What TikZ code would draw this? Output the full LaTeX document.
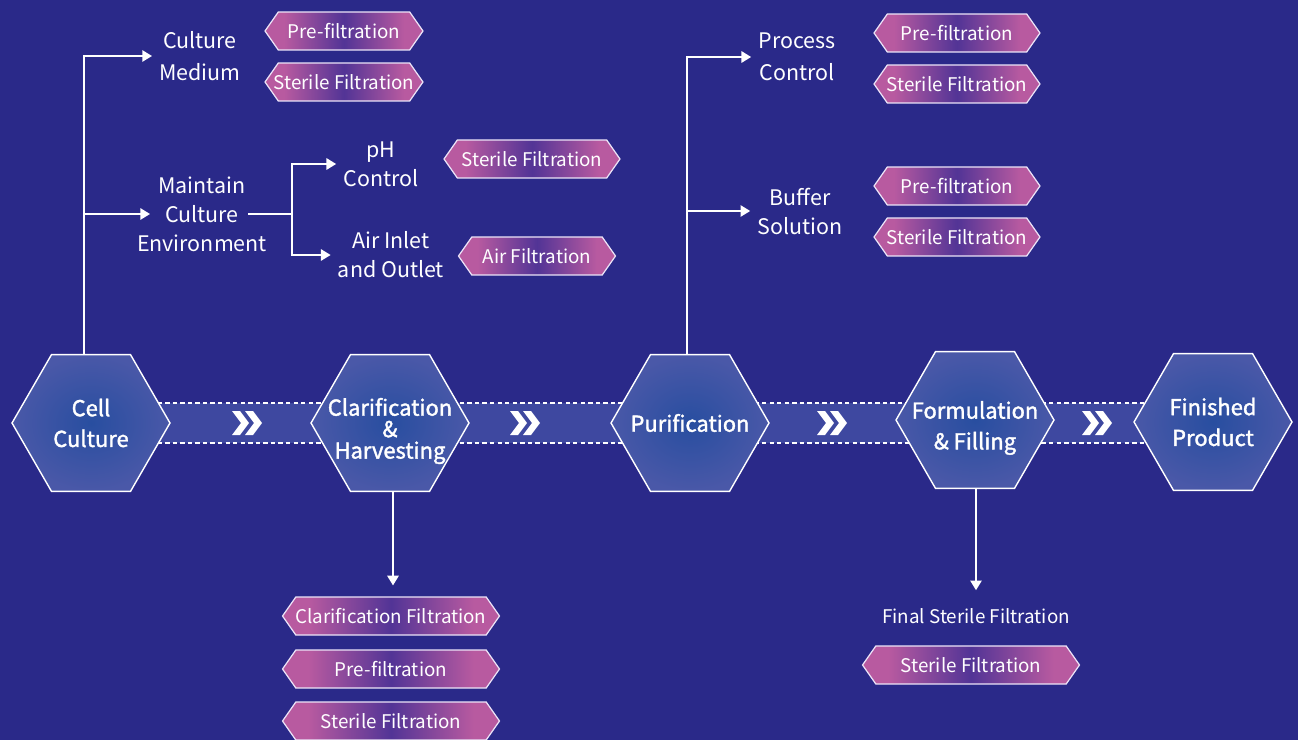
\documentclass[tikz,border=0pt]{standalone}
\usepackage{fontspec}
\setmainfont{Noto Sans CJK SC}
\newfontfamily\stagefont{Noto Sans CJK SC}[FakeBold=1.6]
\usetikzlibrary{arrows.meta, positioning, shapes, calc}

\definecolor{bgblue}{RGB}{42,41,137}
\definecolor{bandblue}{RGB}{62,72,160}
\definecolor{hexin}{RGB}{40,78,160}
\definecolor{hexout}{RGB}{74,88,168}
\definecolor{tagpink}{RGB}{184,90,160}
\definecolor{tagpurple}{RGB}{82,52,150}
\definecolor{tagline}{RGB}{236,228,248}

\pgfdeclarehorizontalshading{tagshade}{100bp}{color(0bp)=(tagpink); color(25bp)=(tagpink); color(31bp)=(tagpink); color(50bp)=(tagpurple); color(69bp)=(tagpink); color(75bp)=(tagpink); color(100bp)=(tagpink)}

\tikzset{
  stage/.style={regular polygon, regular polygon sides=6, minimum size=3.16cm, inner sep=0pt,
    draw=white, line width=0.8pt, inner color=hexin, outer color=hexout},
  stagetxt/.style={text=white, font=\stagefont\fontsize{12.5}{17.5}\selectfont, align=center},
  lbl/.style={text=white, font=\fontsize{12.2}{16.5}\selectfont, align=center, inner sep=4pt},
  plaintxt/.style={text=white, font=\fontsize{10.7}{13}\selectfont},
  tag/.style={signal, signal to=east and west, signal pointer angle=110, minimum height=0.76cm,
    draw=tagline, line width=0.7pt, shading=tagshade, text=white,
    font=\fontsize{10.7}{13}\selectfont, inner ysep=1pt, inner xsep=-4pt},
  wire/.style={draw=white, line width=0.85pt},
  link/.style={wire, -{Triangle[length=5.5pt,width=6.5pt]}},
  dashline/.style={draw=white, line width=0.6pt, dash pattern=on 2.5pt off 1.8pt}
}

\begin{document}
\begin{tikzpicture}[x=0.02cm, y=-0.02cm]
\fill[bgblue] (0,0) rectangle (1298,740);
\useasboundingbox (0,0) rectangle (1298,740);

% band behind the stages
\fill[bandblue] (150,403) rectangle (1150,443);
\draw[dashline] (150,403) -- (1150,403);
\draw[dashline] (150,443) -- (1150,443);

% stages
\node[stage] (cell) at (91,423) {};
\node[stage] (clar) at (390,423) {};
\node[stage] (puri) at (690,423) {};
\node[stage] (form) at (975,420) {};
\node[stage] (fin) at (1213,422) {};
\node[stagetxt] (celltxt) at (cell) {Cell\\Culture};
\node[stagetxt, font=\stagefont\fontsize{12.5}{12.2}\selectfont] (clartxt) at ($(clar)+(0,8)$) {Clarification\\\&\\Harvesting};
\node[stagetxt] (puritxt) at (puri) {Purification};
\node[stagetxt] (formtxt) at ($(form)+(0,8)$) {Formulation\\\& Filling};
\node[stagetxt] (fintxt) at (fin) {Finished\\Product};

% chevrons on the band
\foreach \cx in {247,525,832,1097} {
  \foreach \dx in {-15,-2}
    \fill[white] (\cx+\dx,411) -- ++(8,0) -- ++(9,12) -- ++(-9,12) -- ++(-8,0) -- ++(9,-12) -- cycle;
}

% cell culture branch
\node[lbl] (medium) at (200,56) {Culture\\[2pt]Medium};
\node[lbl] (env) at (202,214) {Maintain\\Culture\\Environment};
\node[lbl] (ph) at (381,164) {pH\\Control};
\node[lbl] (air) at (391,255) {Air Inlet\\and Outlet};

\coordinate (cellup) at ($(cell.north)+(-7,0)$);
\coordinate (envin) at ($(env.center)+(-52,0)$);
\coordinate (envout) at ($(env.center)+(46,0)$);
\coordinate (envfork) at ($(envout)+(44,0)$);
\draw[link] (cellup) |- (medium.west);
\draw[link] (cellup |- envin) -- (envin);
\draw[wire] (envout) -- (envfork);
\draw[link] (envfork) |- (ph.west);
\draw[link] (envfork) |- (air.west);

\node[tag, minimum width=3.16cm] (cm1) at (344,31) {Pre-filtration};
\node[tag, minimum width=3.16cm] (cm2) at (344,82) {Sterile Filtration};
\node[tag, minimum width=3.52cm] (ph1) at (532,159) {Sterile Filtration};
\node[tag, minimum width=3.14cm] (air1) at (537,256) {Air Filtration};

% purification branch
\node[lbl] (proc) at (797,57) {Process\\[2pt]Control};
\node[lbl] (buf) at (800,211) {Buffer\\Solution};
\coordinate (puriup) at ($(puri.north)+(-3,0)$);
\draw[link] (puriup) |- (proc.west);
\draw[link] (puriup |- buf.west) -- (buf.west);

\node[tag, minimum width=3.32cm] (pc1) at (957,33) {Pre-filtration};
\node[tag, minimum width=3.32cm] (pc2) at (957,84) {Sterile Filtration};
\node[tag, minimum width=3.32cm] (bs1) at (957,186) {Pre-filtration};
\node[tag, minimum width=3.32cm] (bs2) at (957,237) {Sterile Filtration};

% clarification branch
\node[tag, minimum width=4.34cm] (cf1) at (391,616) {Clarification Filtration};
\node[tag, minimum width=4.34cm] (cf2) at (391,669) {Pre-filtration};
\node[tag, minimum width=4.34cm] (cf3) at (391,721) {Sterile Filtration};
\coordinate (clardown) at ($(cf1.north)+(2,-11)$);
\draw[link] (clar.south -| clardown) -- (clardown);

% formulation branch
\node[plaintxt] (final) at (976,616) {Final Sterile Filtration};
\node[tag, minimum width=4.34cm] (ff1) at (971,665) {Sterile Filtration};
\coordinate (formdown) at ($(final.north)+(0,-12)$);
\draw[link] (form.south -| formdown) -- (formdown);
\end{tikzpicture}
\end{document}
